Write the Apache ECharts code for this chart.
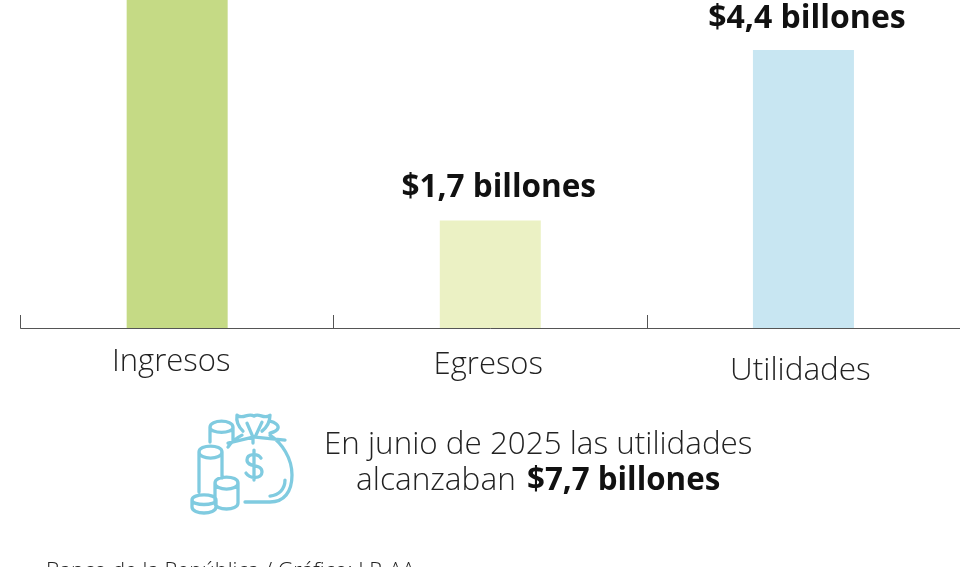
<!DOCTYPE html>
<html><head><meta charset="utf-8">
<style>html,body{margin:0;padding:0;background:#fff}#c{width:960px;height:567px}</style>
<script src="https://cdn.jsdelivr.net/npm/echarts@6/dist/echarts.min.js"></script>
</head><body><div id="c"></div>
<script>
const categories = ['Ingresos','Egresos','Utilidades'];
const values = [6.1,1.7,4.4];
const colors = ['#c5da85','#ebf1c4','#c8e6f2'];
const labels = ['$6,1 billones','$1,7 billones','$4,4 billones'];
const labelPad = [[5,12,0,0],[8,4,0,0],[13,6,0,0]];
const labelSize = [31,31,31.5];
const valueOffset = [[0,0],[8.5,0],[3.5,2]];
const valueSize = [32,31.5,32];
const chart = echarts.init(document.getElementById('c'));
const F='"Open Sans"', blue='#80cbe0', S={stroke:blue,fill:null,lineWidth:3.3,lineCap:'round',lineJoin:'round'};
const icon="M210 442 L210 427 C210 419 233 419 233 427 C233 434 210 434 210 427 M233 427 L233 441 "+
"M199 452 C199 444 222 444 222 452 C222 460 199 460 199 452 L199 492 M222 452 L222 478 "+
"M215 483 C215 475 238 475 238 483 C238 491 215 491 215 483 L215 503 C215 511 238 511 238 503 L238 483 "+
"M192 500 C192 493 216 493 216 500 C216 506 192 506 192 500 L192 507 C192 515 216 515 216 507 L216 500 "+
"M228 447 C232 441 236 438 242 435 M270 435 C282 443 292 458 292 475 C292 492 284 502 270 502 L245 502 M285 480 C285 489 279 495 270 496 "+
"M237 415 C243 420 248 412 254 416 C259 412 264 420 270 415 C270 421 268 426 262 431 M237 415 C236 421 238 426 243 431 "+
"M270 421 C275 422 279 425 278 428 C277 431 274 432 270 433 "+
"M247 423 L253 437 M262 422 L255 437 M255 437 L285 440 M253 437 L228 443 M253 437 L253 443 "+
"M261 458 C258 453 247 453 247 460 C247 468 262 463 262 472 C262 479 250 479 246 473 M254 450 L254 480";
chart.setOption({
  animation:false,
  backgroundColor:'#fff',
  grid:{left:20.6,width:940.4,top:0,height:328,containLabel:false},
  xAxis:{type:'category',data:categories.map((c,i)=>({value:c,textStyle:{padding:labelPad[i],fontSize:labelSize[i]}})),
    boundaryGap:true,
    axisLine:{lineStyle:{color:'#555',width:1}},
    axisTick:{show:true,length:13,inside:true,alignWithLabel:false,lineStyle:{color:'#555',width:1}},
    axisLabel:{fontFamily:F,fontWeight:300,fontSize:31,color:'#222',margin:14,interval:0}},
  yAxis:{type:'value',min:0,max:5.19,show:false,splitLine:{show:false}},
  series:[{type:'bar',barWidth:101,
    data:values.map((v,i)=>({value:v,itemStyle:{color:colors[i]},label:{show:i>0,offset:valueOffset[i],fontSize:valueSize[i]}})),
    label:{show:true,position:'top',distance:17,fontFamily:F,fontWeight:700,fontSize:32,color:'#111',
      formatter:p=>labels[p.dataIndex]}},
    {type:'custom',coordinateSystem:'none',silent:true,data:[0],
     renderItem:()=>({type:'path',shape:{pathData:icon,layout:'cover',x:192,y:415,width:100,height:98},style:S})}],
  graphic:[
    {type:'text',left:324,top:430,style:{text:'En junio de 2025 las utilidades',font:'300 31.4px "Open Sans"',fill:'#222'}},
    {type:'text',left:356,top:465,style:{text:'{a|alcanzaban }{b|$7,7 billones}',rich:{a:{font:'300 31.6px "Open Sans"',fill:'#222'},b:{font:'700 31.3px "Open Sans"',fill:'#111',padding:[0,0,0,3]}}}},
    {type:'text',left:46,top:561,style:{text:'Banco de la República / Gráfico: LR-AA',font:'300 21.6px "Open Sans"',fill:'#222'}}
  ]
});
</script></body></html>
